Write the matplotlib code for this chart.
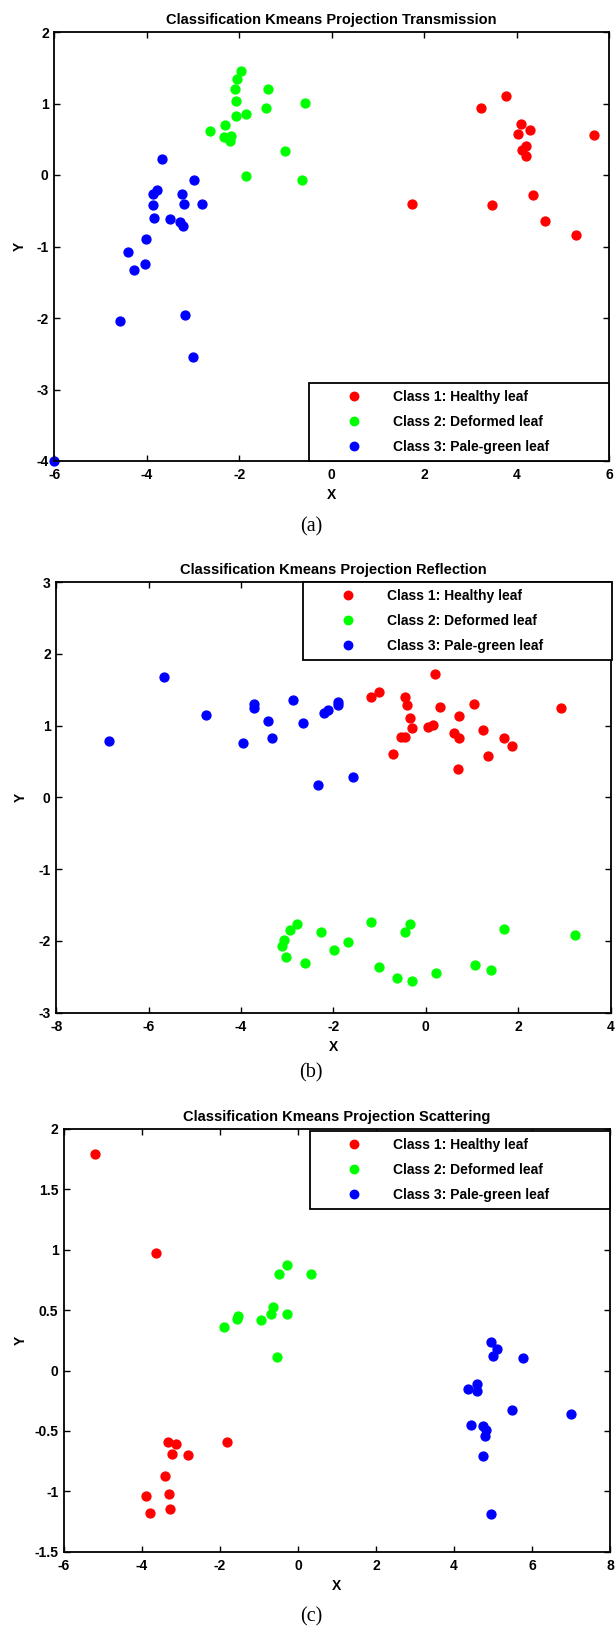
import matplotlib
matplotlib.use('Agg')
import matplotlib.pyplot as plt
from matplotlib.ticker import FuncFormatter

plt.rcParams['font.family'] = ['Liberation Sans', 'DejaVu Sans']
plt.rcParams['axes.unicode_minus'] = False

class_labels = ['Class 1: Healthy leaf', 'Class 2: Deformed leaf', 'Class 3: Pale-green leaf']
class_colors = ['#ff0000', '#00ff00', '#0000ff']

# ---- (a) Transmission ----
a_red_x = [3.24, 3.77, 4.10, 4.04, 4.29, 4.21, 4.11, 4.21, 5.67, 1.74, 3.46, 4.36, 4.62, 5.28]
a_red_y = [0.94, 1.10, 0.72, 0.58, 0.63, 0.40, 0.35, 0.27, 0.56, -0.40, -0.42, -0.28, -0.64, -0.84]
a_green_x = [-1.96, -2.04, -2.09, -1.38, -2.07, -0.58, -1.41, -2.07, -1.85, -2.31, -2.64, -2.32, -2.18, -2.20, -1.01, -1.85, -0.64]
a_green_y = [1.46, 1.34, 1.20, 1.20, 1.04, 1.01, 0.94, 0.83, 0.86, 0.70, 0.61, 0.53, 0.54, 0.47, 0.34, -0.01, -0.07]
a_blue_x = [-3.67, -2.98, -3.78, -3.86, -3.23, -3.86, -3.20, -2.81, -3.84, -3.50, -3.28, -3.22, -4.01, -4.41, -4.28, -4.03, -4.58, -3.17, -3.01, -6.00]
a_blue_y = [0.22, -0.07, -0.21, -0.26, -0.26, -0.42, -0.40, -0.40, -0.60, -0.62, -0.66, -0.72, -0.89, -1.07, -1.33, -1.24, -2.04, -1.96, -2.55, -4.00]

# ---- (b) Reflection ----
b_red_x = [-1.18, -1.01, -0.46, 0.20, -0.40, 0.31, 1.04, 2.92, -0.35, 0.73, -0.29, 0.05, 0.15, -0.54, -0.45, 0.62, 0.73, 1.23, 1.70, 1.86, -0.71, 1.34, 0.70]
b_red_y = [1.40, 1.47, 1.40, 1.72, 1.29, 1.26, 1.30, 1.24, 1.10, 1.13, 0.97, 0.98, 1.01, 0.84, 0.84, 0.89, 0.83, 0.94, 0.83, 0.72, 0.60, 0.58, 0.40]
b_green_x = [-2.78, -2.93, -3.06, -3.11, -3.03, -2.62, -2.26, -1.98, -1.68, -1.18, -1.01, -0.46, -0.35, -0.63, -0.30, 0.23, 1.07, 1.42, 1.70, 3.23]
b_green_y = [-1.76, -1.85, -1.99, -2.07, -2.22, -2.31, -1.87, -2.13, -2.01, -1.74, -2.36, -1.87, -1.76, -2.51, -2.56, -2.44, -2.33, -2.40, -1.83, -1.92]
b_blue_x = [-6.86, -5.67, -4.75, -3.73, -3.73, -3.95, -3.42, -3.34, -2.88, -2.65, -2.20, -2.12, -1.90, -1.90, -2.34, -1.57]
b_blue_y = [0.79, 1.67, 1.15, 1.30, 1.25, 0.76, 1.06, 0.83, 1.35, 1.04, 1.18, 1.22, 1.33, 1.28, 0.17, 0.29]

# ---- (c) Scattering ----
c_red_x = [-5.21, -3.64, -3.34, -3.14, -3.24, -2.83, -1.83, -3.40, -3.89, -3.31, -3.79, -3.27]
c_red_y = [1.79, 0.97, -0.59, -0.61, -0.69, -0.70, -0.59, -0.87, -1.04, -1.02, -1.18, -1.15]
c_green_x = [-1.89, -1.57, -1.53, -0.96, -0.70, -0.63, -0.28, -0.50, -0.28, 0.33, -0.54]
c_green_y = [0.36, 0.43, 0.45, 0.42, 0.47, 0.53, 0.47, 0.80, 0.87, 0.80, 0.11]
c_blue_x = [4.96, 5.09, 5.00, 5.77, 4.58, 4.35, 4.58, 5.48, 6.99, 4.44, 4.74, 4.81, 4.79, 4.74, 4.96]
c_blue_y = [0.24, 0.18, 0.12, 0.10, -0.11, -0.15, -0.17, -0.33, -0.36, -0.45, -0.46, -0.49, -0.54, -0.71, -1.19]

W, H = 616, 1628
fig = plt.figure(figsize=(W / 100, H / 100), dpi=100)

FS_TITLE = 10.5
FS_TICK = 10
FS_LEG = 10


def panel(px_box, title, series, xlim, ylim, xticks, yticks, leg_bbox, leg_loc, caption, cap_y, ylab_x):
    l, r, t, b = px_box
    ax = fig.add_axes([l / W, 1 - b / H, (r - l) / W, (b - t) / H])
    for (xs, ys), col, lab in zip(series, class_colors, class_labels):
        ax.plot(xs, ys, linestyle='none', marker='o', markersize=6.4,
                markerfacecolor=col, markeredgecolor=col, label=lab, clip_on=False)
    ax.set_xlim(*xlim)
    ax.set_ylim(*ylim)
    ax.set_xticks(xticks)
    ax.set_yticks(yticks)
    fmt = FuncFormatter(lambda v, p: ('%g' % v))
    ax.xaxis.set_major_formatter(fmt)
    ax.yaxis.set_major_formatter(fmt)
    ax.tick_params(direction='in', length=4, width=1.0, top=True, right=True,
                   labelsize=FS_TICK, pad=5)
    ax.tick_params(axis='y', pad=4)
    for lbl in ax.get_xticklabels() + ax.get_yticklabels():
        lbl.set_fontweight('bold')
    for s in ax.spines.values():
        s.set_linewidth(1.3)
    ax.set_title(title, fontsize=FS_TITLE, fontweight='bold', pad=6)
    hpx = b - t
    ax.set_xlabel('X', fontsize=FS_TICK, fontweight='bold')
    ax.xaxis.label.set_va('center')
    ax.xaxis.set_label_coords(0.5, -34 / hpx)
    ax.set_ylabel('Y', fontsize=FS_TICK, fontweight='bold')
    ax.yaxis.label.set_va('center')
    ax.yaxis.set_label_coords((ylab_x - l) / (r - l), 0.5)
    leg = ax.legend(loc=leg_loc, bbox_to_anchor=leg_bbox, mode='expand',
                    borderaxespad=0, prop={'size': FS_LEG, 'weight': 'bold'},
                    labelspacing=0.78, borderpad=0.52, handlelength=5.4,
                    handletextpad=0.1, fancybox=False, framealpha=1,
                    edgecolor='black', numpoints=1, markerscale=0.95)
    leg.get_frame().set_linewidth(1.3)
    fig.text(311 / W, 1 - cap_y / H, caption, ha='center', va='center',
             fontsize=14.5, family=['Liberation Serif', 'DejaVu Serif'])
    return ax


panel((54.3, 609, 32, 461), 'Classification Kmeans Projection Transmission',
      [(a_red_x, a_red_y), (a_green_x, a_green_y), (a_blue_x, a_blue_y)],
      (-6, 6), (-4, 2), [-6, -4, -2, 0, 2, 4, 6], [-4, -3, -2, -1, 0, 1, 2],
      (0.46, 0, 0.54, 1), 'lower left', '(a)', 527, 20)

panel((56.3, 610.5, 582, 1012.7), 'Classification Kmeans Projection Reflection',
      [(b_red_x, b_red_y), (b_green_x, b_green_y), (b_blue_x, b_blue_y)],
      (-8, 4), (-3, 3), [-8, -6, -4, -2, 0, 2, 4], [-3, -2, -1, 0, 1, 2, 3],
      (0.446, 0, 0.556, 1), 'upper left', '(b)', 1073, 21)

panel((64, 610, 1129, 1551.7), 'Classification Kmeans Projection Scattering',
      [(c_red_x, c_red_y), (c_green_x, c_green_y), (c_blue_x, c_blue_y)],
      (-6, 8), (-1.5, 2), [-6, -4, -2, 0, 2, 4, 6, 8],
      [-1.5, -1, -0.5, 0, 0.5, 1, 1.5, 2],
      (0.45, 0, 0.55, 0.995), 'upper left', '(c)', 1617, 21)

fig.savefig('out.png', dpi=100)
